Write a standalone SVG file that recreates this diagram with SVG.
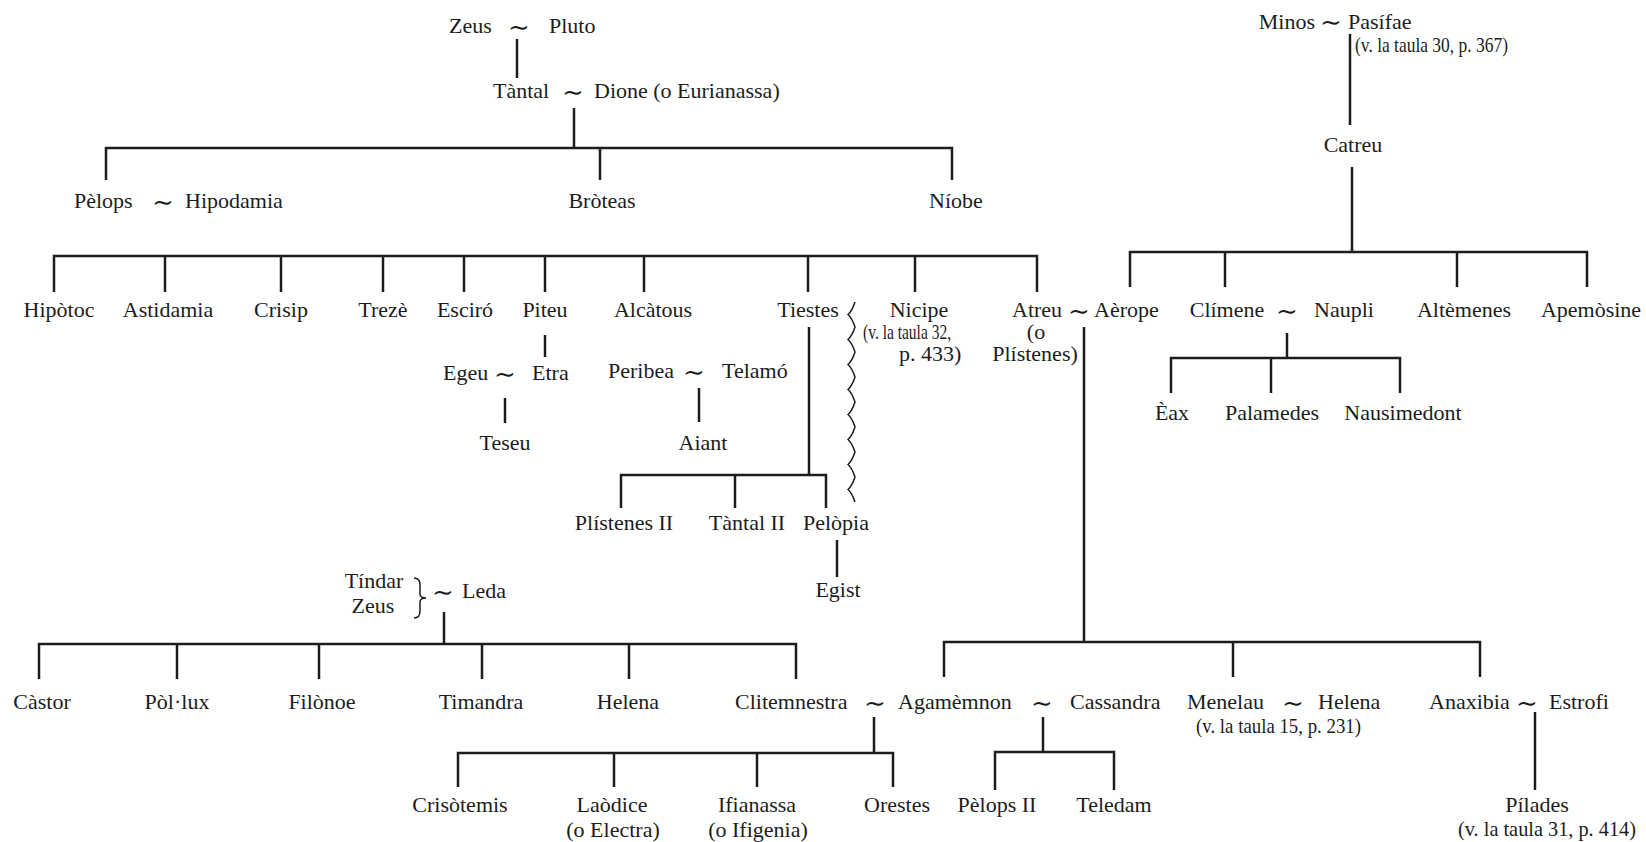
<svg xmlns="http://www.w3.org/2000/svg" width="1646" height="842" viewBox="0 0 1646 842">
<style>
.t{font-family:"Liberation Serif","Times New Roman",serif;font-size:22px;fill:#1c1c1c}
.n{font-size:21px}
.m{text-anchor:middle}
.e{text-anchor:end}
.tl{font-family:"DejaVu Serif","DejaVu Sans",serif;font-size:26px;text-anchor:middle;fill:#1c1c1c}
.c{fill:none;stroke:#1c1c1c;stroke-width:2.5}
.w{fill:none;stroke:#1c1c1c;stroke-width:1.5}
</style>
<rect width="1646" height="842" fill="#ffffff"/>
<g id="connectors">
<path class="c" d="M517 39V78"/>
<path class="c" d="M574 108V148"/>
<path class="c" d="M106 180V148H952V180M600 148V180"/>
<path class="c" d="M54 292V256H1037V292M165 256V292M281 256V292M383 256V292M464 256V292M545 256V292M644 256V292M808 256V292M915 256V292"/>
<path class="c" d="M545 335V357"/>
<path class="c" d="M505 398V423"/>
<path class="c" d="M699 388V422"/>
<path class="c" d="M809 327V475M621 508V475H826V508M735 475V508"/>
<path class="c" d="M837 540V577"/>
<path class="c" d="M1084 327V642"/>
<path class="c" d="M1350 34V125M1352 167V252"/>
<path class="c" d="M1130 287V252H1587V287M1225 252V287M1457 252V287"/>
<path class="c" d="M1287 333V358M1171 393V358H1400V393M1271 358V393"/>
<path class="c" d="M444 612V644M39 679V644H796V679M177 644V679M319 644V679M482 644V679M629 644V679"/>
<path class="c" d="M944 677V642H1480V677M1233 642V677"/>
<path class="c" d="M874 717V753M458 787V753H893V787M614 753V787M757 753V787"/>
<path class="c" d="M1043 717V752M995 790V752H1114V790"/>
<path class="c" d="M1535 712V790"/>
<path class="w" d="M855 302q-3 9 -7 12.5q4 3.5 7 12.5q-3 9 -7 12.5q4 3.5 7 12.5q-3 9 -7 12.5q4 3.5 7 12.5q-3 9 -7 12.5q4 3.5 7 12.5q-3 9 -7 12.5q4 3.5 7 12.5q-3 9 -7 12.5q4 3.5 7 12.5q-3 9 -7 12.5q4 3.5 7 12.5q-3 9 -7 12.5q4 3.5 7 12.5"/>
<path class="w" d="M414 578q6 0 6 7v9q0 4 6 4q-6 0 -6 4v9q0 7 -6 7"/>
</g>
<g id="zeus-pluto"><text class="t" x="449" y="33">Zeus</text><text class="tl" x="519" y="36">∼</text><text class="t" x="549" y="33">Pluto</text></g>
<g id="tantal-dione"><text class="t" x="493" y="98">Tàntal</text><text class="tl" x="573" y="101">∼</text><text class="t" x="594" y="98">Dione (o Eurianassa)</text></g>
<g id="pelops-hipodamia"><text class="t" x="74" y="208">Pèlops</text><text class="tl" x="163" y="211">∼</text><text class="t" x="185" y="208">Hipodamia</text></g>
<g id="broteas"><text class="t m" x="602" y="208">Bròteas</text></g>
<g id="niobe"><text class="t m" x="956" y="208">Níobe</text></g>
<g id="minos-pasifae"><text class="t e" x="1315" y="29">Minos</text><text class="tl" x="1331" y="31">∼</text><text class="t" x="1348" y="29">Pasífae</text><text class="t" x="1355" y="52" textLength="153" lengthAdjust="spacingAndGlyphs">(v. la taula 30, p. 367)</text></g>
<g id="catreu"><text class="t m" x="1353" y="152">Catreu</text></g>
<g id="hipotoc"><text class="t m" x="59" y="317">Hipòtoc</text></g>
<g id="astidamia"><text class="t m" x="168" y="317">Astidamia</text></g>
<g id="crisip"><text class="t m" x="281" y="317">Crisip</text></g>
<g id="treze"><text class="t m" x="383" y="317">Trezè</text></g>
<g id="esciro"><text class="t m" x="465" y="317">Esciró</text></g>
<g id="piteu"><text class="t m" x="545" y="317">Piteu</text></g>
<g id="alcatous"><text class="t m" x="653" y="317">Alcàtous</text></g>
<g id="tiestes"><text class="t m" x="808" y="317">Tiestes</text></g>
<g id="nicipe"><text class="t m" x="919" y="317">Nicipe</text><text class="t" x="863" y="339" textLength="88" lengthAdjust="spacingAndGlyphs">(v. la taula 32,</text><text class="t" x="899" y="361">p. 433)</text></g>
<g id="atreu-aerope"><text class="t" x="1012" y="317">Atreu</text><text class="tl" x="1079" y="320">∼</text><text class="t" x="1094" y="317">Aèrope</text><text class="t m" x="1036" y="339">(o</text><text class="t m" x="1035" y="361">Plístenes)</text></g>
<g id="climene-naupli"><text class="t m" x="1227" y="317">Clímene</text><text class="tl" x="1287" y="320">∼</text><text class="t" x="1314" y="317">Naupli</text></g>
<g id="altemenes"><text class="t m" x="1464" y="317">Altèmenes</text></g>
<g id="apemosine"><text class="t m" x="1591" y="317">Apemòsine</text></g>
<g id="eax"><text class="t m" x="1172" y="420">Èax</text></g>
<g id="palamedes"><text class="t m" x="1272" y="420">Palamedes</text></g>
<g id="nausimedont"><text class="t m" x="1403" y="420">Nausimedont</text></g>
<g id="egeu-etra"><text class="t" x="443" y="380">Egeu</text><text class="tl" x="505" y="383">∼</text><text class="t" x="532" y="380">Etra</text></g>
<g id="teseu"><text class="t m" x="505" y="450">Teseu</text></g>
<g id="peribea-telamo"><text class="t" x="608" y="378">Peribea</text><text class="tl" x="694" y="381">∼</text><text class="t" x="722" y="378">Telamó</text></g>
<g id="aiant"><text class="t m" x="703" y="450">Aiant</text></g>
<g id="plistenes2"><text class="t m" x="624" y="530">Plístenes II</text></g>
<g id="tantal2"><text class="t m" x="747" y="530">Tàntal II</text></g>
<g id="pelopia"><text class="t m" x="836" y="530">Pelòpia</text></g>
<g id="egist"><text class="t m" x="838" y="597">Egist</text></g>
<g id="tindar-zeus-leda"><text class="t m" x="374" y="588">Tíndar</text><text class="t m" x="373" y="613">Zeus</text><text class="tl" x="443" y="601">∼</text><text class="t" x="462" y="598">Leda</text></g>
<g id="castor"><text class="t m" x="42" y="709">Càstor</text></g>
<g id="pollux"><text class="t m" x="177" y="709">Pòl·lux</text></g>
<g id="filonoe"><text class="t m" x="322" y="709">Filònoe</text></g>
<g id="timandra"><text class="t m" x="481" y="709">Timandra</text></g>
<g id="helena1"><text class="t m" x="628" y="709">Helena</text></g>
<g id="clitemnestra-agamemnon-cassandra"><text class="t" x="735" y="709">Clitemnestra</text><text class="tl" x="875" y="712">∼</text><text class="t" x="898" y="709">Agamèmnon</text><text class="tl" x="1042" y="712">∼</text><text class="t" x="1070" y="709">Cassandra</text></g>
<g id="menelau-helena"><text class="t" x="1187" y="709">Menelau</text><text class="tl" x="1293" y="712">∼</text><text class="t" x="1318" y="709">Helena</text><text class="t n" x="1196" y="733" textLength="165" lengthAdjust="spacingAndGlyphs">(v. la taula 15, p. 231)</text></g>
<g id="anaxibia-estrofi"><text class="t" x="1429" y="709">Anaxibia</text><text class="tl" x="1527" y="712">∼</text><text class="t" x="1549" y="709">Estrofi</text></g>
<g id="crisotemis"><text class="t m" x="460" y="812">Crisòtemis</text></g>
<g id="laodice"><text class="t m" x="612" y="812">Laòdice</text><text class="t m" x="613" y="837">(o Electra)</text></g>
<g id="ifianassa"><text class="t m" x="757" y="812">Ifianassa</text><text class="t m" x="758" y="837">(o Ifigenia)</text></g>
<g id="orestes"><text class="t m" x="897" y="812">Orestes</text></g>
<g id="pelops2"><text class="t m" x="997" y="812">Pèlops II</text></g>
<g id="teledam"><text class="t m" x="1114" y="812">Teledam</text></g>
<g id="pilades"><text class="t m" x="1537" y="812">Pílades</text><text class="t n m" x="1547" y="836" textLength="178" lengthAdjust="spacingAndGlyphs">(v. la taula 31, p. 414)</text></g>
</svg>
